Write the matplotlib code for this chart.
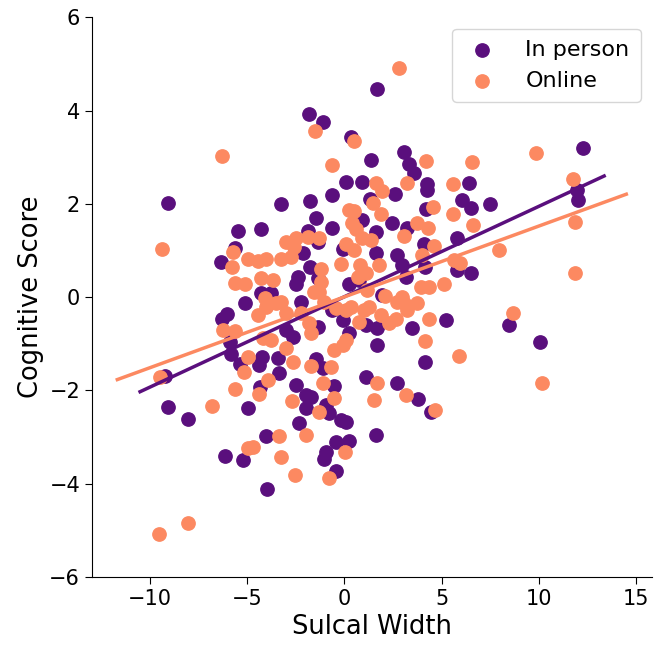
import numpy as np
import matplotlib
matplotlib.use("Agg")
import matplotlib.pyplot as plt

# In person (sulcal width, cognitive score)
inperson_x = [-9.05, -9.22, -9.05, -8.05, -5.49, -4.27, -5.60, -6.36, -4.28, -3.77,
              -5.13, -6.28, -6.03, -5.87, -5.81, -5.38, -4.21, -4.36, -3.41, -3.36,
              -4.33, -4.95, -4.00, -6.11, -5.21, -3.95, -3.26, -1.81, -1.07, 0.33,
              1.36, 0.08, 0.91, -0.61, -1.75, 1.30, -1.46, 0.93, -0.61, -1.89,
              -1.34, -2.14, -0.09, 1.64, -1.75, -2.40, -2.49, -1.37, 0.25, 0.76,
              -2.23, -0.61, -0.09, 1.10, 1.67, -1.37, -3.00, -2.66, 0.25, 1.67,
              -1.46, -1.12, 1.10, -2.49, -0.52, -1.97, -1.72, -1.97, -0.95, -0.78,
              -0.18, 0.08, -2.32, 1.64, -0.44, 0.25, -0.95, -1.03, -0.44, 1.67,
              3.05, 3.35, 3.56, 4.27, 4.27, 6.40, 2.59, 6.04, 6.54, 4.18,
              2.47, 3.24, 1.62, 5.82, 4.09, 2.73, 5.82, 6.49, 2.98, 4.14,
              3.15, 1.96, 3.50, 5.21, 4.14, 2.73, 3.79, 4.44, 7.51, 12.25,
              11.96, 12.04, 8.45, 10.04]
inperson_y = [2.02, -1.70, -2.36, -2.62, 1.41, 1.47, 1.06, 0.75, 0.08, 0.09,
              -0.12, -0.46, -0.36, -0.96, -1.22, -1.44, -1.28, -1.46, -1.30, -1.63,
              -1.92, -2.38, -2.97, -3.41, -3.50, -4.12, 1.99, 3.92, 3.76, 3.43,
              2.94, 2.47, 2.48, 2.19, 2.07, 2.11, 1.69, 1.65, 1.49, 1.42,
              1.18, 0.94, 1.04, 0.94, 0.65, 0.43, 0.29, 0.40, 0.29, 0.36,
              -0.10, -0.28, -0.49, -0.60, -0.66, -0.64, -0.71, -0.85, -0.78, -1.03,
              -1.33, -1.53, -1.71, -1.89, -1.91, -2.10, -2.14, -2.38, -2.31, -2.49,
              -2.64, -2.67, -2.71, -2.96, -3.11, -3.09, -3.32, -3.47, -3.74, 4.46,
              3.11, 2.86, 2.66, 2.42, 2.29, 2.45, 2.22, 2.08, 1.91, 1.88,
              1.58, 1.49, 1.40, 1.26, 1.15, 0.90, 0.58, 0.52, 0.69, 0.64,
              0.43, 0.04, -0.67, -0.49, -1.39, -1.85, -2.18, -2.46, 1.99, 3.20,
              2.29, 2.08, -0.60, -0.97]

# Online (sulcal width, cognitive score)
online_x = [-6.31, -9.39, -9.48, -5.72, -5.77, -4.95, -4.44, -4.03, -5.64, -5.13,
            -4.28, -3.67, -4.09, -4.03, -3.51, -4.44, -6.23, -5.64, -4.18, -3.77,
            -4.95, -5.18, -3.90, -4.36, -5.63, -6.78, -3.38, -4.96, -4.71, -3.28,
            -8.06, -9.53, -1.51, 0.50, -0.64, 1.62, 0.25, 0.50, 1.50, 0.42,
            0.59, -1.89, -1.29, -2.49, -3.00, -2.57, -2.74, -3.26, 0.08, 0.50,
            0.93, 1.36, -0.18, -1.21, -1.21, 0.79, 1.10, 0.68, -1.55, -1.29,
            1.19, -3.26, -1.04, -0.44, 0.08, 0.33, 1.02, 1.27, 0.76, -2.23,
            -3.00, -1.81, -1.72, 0.08, -0.09, -0.52, -3.00, -2.66, -1.72, -0.69,
            -1.12, 1.70, -2.71, -0.52, 1.55, -1.29, -1.97, 0.06, -0.79, -2.51,
            2.81, 4.18, 6.57, 3.24, 5.59, 1.96, 1.87, 4.54, 5.59, 3.75,
            4.32, 3.07, 6.60, 4.61, 4.01, 5.63, 5.97, 1.78, 2.09, 5.12,
            3.92, 4.35, 2.98, 3.07, 2.73, 3.24, 3.75, 1.87, 2.30, 2.64,
            4.35, 4.14, 5.92, 3.15, 4.65, 9.86, 11.75, 11.87, 7.94, 11.87,
            8.66, 10.16]
online_y = [3.03, 1.04, -1.71, 0.97, 0.64, 0.81, 0.77, 0.82, 0.31, 0.29,
            0.42, 0.36, -0.01, -0.21, -0.13, -0.39, -0.71, -0.72, -0.88, -0.92,
            -1.28, -1.60, -1.78, -2.07, -1.97, -2.34, -2.98, -3.24, -3.22, -3.44,
            -4.84, -5.08, 3.57, 3.36, 2.83, 2.44, 1.87, 1.85, 2.03, 1.58,
            1.47, 1.29, 1.26, 1.26, 1.18, 1.08, 0.86, 0.82, 1.15, 1.01,
            1.26, 1.22, 0.71, 0.61, 0.33, 0.69, 0.51, 0.43, 0.11, 0.11,
            0.15, -0.10, -0.10, -0.24, -0.28, -0.21, -0.28, -0.21, -0.53, -0.35,
            -0.35, -0.56, -0.76, -0.92, -1.03, -1.14, -1.10, -1.39, -1.48, -1.49,
            -1.85, -1.85, -2.23, -2.17, -2.20, -2.46, -2.96, -3.32, -3.88, -3.82,
            4.92, 2.93, 2.90, 2.45, 2.42, 2.27, 1.79, 1.93, 1.78, 1.58,
            1.49, 1.31, 1.54, 1.09, 0.90, 0.79, 0.73, 0.69, 0.02, 0.29,
            0.22, 0.22, 0.01, -0.13, -0.10, -0.28, -0.12, -0.39, -0.56, -0.46,
            -0.48, -0.94, -1.26, -2.09, -2.42, 3.10, 2.54, 1.61, 1.02, 0.51,
            -0.35, -1.84]

# Fitted regression lines: slope, intercept, x-range
inperson_fit = (0.194, 0.007)
inperson_line_x = [-10.5, 13.36]
online_fit = (0.152, 0.004)
online_line_x = [-11.67, 14.5]

labels = ["In person", "Online"]
c_in = "#5a0f7d"
c_on = "#fc8961"

fig = plt.figure(figsize=(6.61, 6.48), dpi=100)
ax = fig.add_axes([0.139, 0.110, 0.847, 0.863])

ax.scatter(inperson_x, inperson_y, s=92, color=c_in, label=labels[0], zorder=2)
ax.scatter(online_x, online_y, s=92, color=c_on, label=labels[1], zorder=2)

lx = np.array(inperson_line_x)
ax.plot(lx, inperson_fit[0] * lx + inperson_fit[1], color=c_in, lw=2.5, zorder=3)
lx = np.array(online_line_x)
ax.plot(lx, online_fit[0] * lx + online_fit[1], color=c_on, lw=2.5, zorder=3)

ax.set_ylim(-6, 6)
ax.set_yticks([-6, -4, -2, 0, 2, 4, 6])
ax.set_xticks([-10, -5, 0, 5, 10, 15])
ax.spines["top"].set_visible(False)
ax.spines["right"].set_visible(False)
ax.tick_params(labelsize=15, length=5)
ax.set_xlabel("Sulcal Width", fontsize=18.5)
ax.set_ylabel("Cognitive Score", fontsize=18.5)
ax.legend(loc="upper right", fontsize=16, handletextpad=1.1, borderpad=0.5,
          handlelength=1.7)

fig.savefig("out.png", dpi=100)
